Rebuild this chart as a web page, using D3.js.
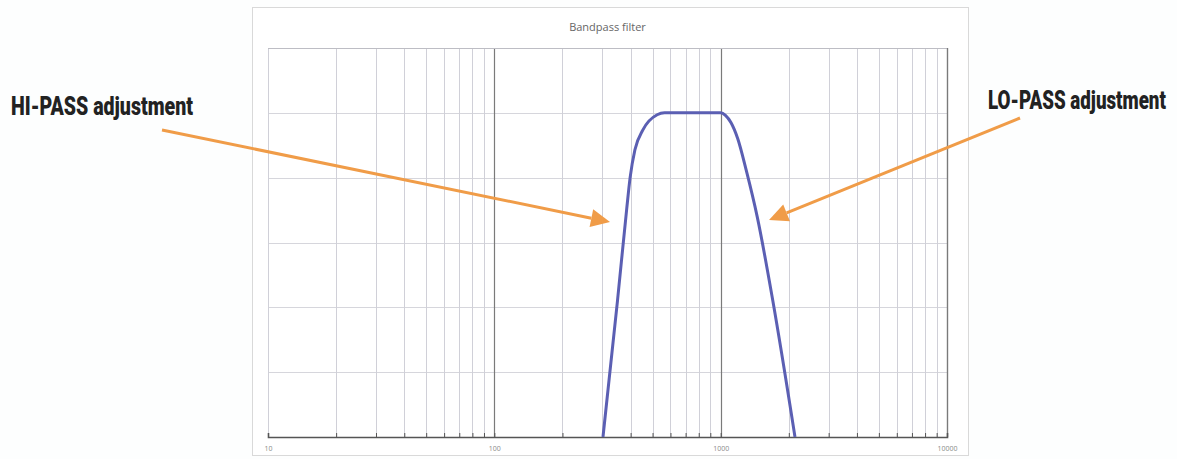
<!DOCTYPE html>
<html lang="en">
<head>
  <meta charset="UTF-8" />
  <title>Bandpass filter</title>
  <script src="https://d3js.org/d3.v7.min.js"></script>
  <style>
    body {
      margin: 0;
      background: #fdfefe;
      font-family: 'Open Sans', 'Liberation Sans', sans-serif;
    }
    svg { display: block; }
  </style>
</head>
<body>
  <svg id="chart" width="1177" height="459"></svg>

  <script>
    // values (frequency in Hz, response in arbitrary grid units)
    const freqs = [302, 350, 384, 398, 418, 454, 524, 565, 1000, 1050, 1110, 1190, 1300, 1450, 1700, 2130];
    const gains = [0, 21, 35, 40, 44.3, 47.4, 49.7, 50, 50, 49.6, 48.5, 46, 41, 34, 21, 0];
    const xLabels = [10, 100, 1000, 10000];
    const yGrid = [0, 10, 20, 30, 40, 50, 60];

    const notes = [
      { text: "HI-PASS adjustment", x: 11, y: 115, w: 182, from: [162, 130], to: [610, 222] },
      { text: "LO-PASS adjustment", x: 988, y: 109, w: 178, from: [1020, 118], to: [769, 220] }
    ];

    const svg = d3.select("#chart");
    const pLeft = 268, pRight = 947, pTop = 48, pBottom = 437;

    const x = d3.scaleLog().domain([10, 10000]).range([pLeft, pRight]);
    const y = d3.scaleLinear().domain([0, 60]).range([pBottom, pTop]);

    // outer chart frame
    svg.append("rect")
      .attr("x", 252.5).attr("y", 7.5)
      .attr("width", 716).attr("height", 448)
      .attr("fill", "#ffffff")
      .attr("stroke", "#d9d9d9");

    svg.append("text")
      .attr("x", (pLeft + pRight) / 2).attr("y", 31)
      .attr("text-anchor", "middle")
      .attr("font-size", 11)
      .attr("fill", "#666")
      .text("Bandpass filter");

    // horizontal grid
    svg.append("g").selectAll("line")
      .data(yGrid.slice(1)).enter().append("line")
      .attr("x1", pLeft).attr("x2", pRight)
      .attr("y1", d => Math.round(y(d)) + 0.5)
      .attr("y2", d => Math.round(y(d)) + 0.5)
      .attr("stroke", "#d6d6dc");

    // vertical grid, decades darker
    const vt = x.ticks();
    const isDecade = d => Math.abs(Math.log10(d) - Math.round(Math.log10(d))) < 1e-9;
    svg.append("g").selectAll("line")
      .data(vt).enter().append("line")
      .attr("x1", d => Math.round(x(d)) + 0.5)
      .attr("x2", d => Math.round(x(d)) + 0.5)
      .attr("y1", pTop).attr("y2", pBottom)
      .attr("stroke", d => isDecade(d) && d !== 10 ? "#7a7a7a" : "#d0d0d8")
      .attr("stroke-width", d => isDecade(d) && d !== 10 ? 1.2 : 1);

    // frame of the plot area
    svg.append("line")
      .attr("x1", pLeft).attr("x2", pRight)
      .attr("y1", pTop + 0.5).attr("y2", pTop + 0.5)
      .attr("stroke", "#bdbdc4");
    svg.append("line")
      .attr("x1", pRight + 0.5).attr("x2", pRight + 0.5)
      .attr("y1", pTop).attr("y2", pBottom)
      .attr("stroke", "#7a7a7a").attr("stroke-width", 1.2);

    // x axis
    const axis = d3.axisBottom(x)
      .tickValues(vt)
      .tickSize(-4)
      .tickFormat(d => xLabels.includes(d) ? d3.format("d")(d) : "");
    const gx = svg.append("g")
      .attr("transform", `translate(0,${pBottom})`)
      .call(axis);
    gx.select(".domain").attr("stroke", "#555").attr("stroke-width", 1.6);
    gx.selectAll(".tick line").attr("stroke", "#555");
    gx.selectAll(".tick text")
      .attr("y", 9)
      .attr("font-size", 7)
      .attr("font-family", "'Open Sans', sans-serif")
      .attr("fill", "#8a8a8a");

    // response curve
    const line = d3.line()
      .x((d, i) => x(freqs[i]))
      .y(d => y(d))
      .curve(d3.curveMonotoneX);
    svg.append("path")
      .datum(gains)
      .attr("d", line)
      .attr("fill", "none")
      .attr("stroke", "#5b5fb3")
      .attr("stroke-width", 3)
      .attr("stroke-linejoin", "round");

    // annotations with orange arrows
    const orange = "#f09c48";
    notes.forEach(n => {
      const [x1, y1] = n.from, [x2, y2] = n.to;
      const ang = Math.atan2(y2 - y1, x2 - x1);
      const len = 19, half = 9;
      const bx = x2 - len * Math.cos(ang), by = y2 - len * Math.sin(ang);
      svg.append("line")
        .attr("x1", x1).attr("y1", y1)
        .attr("x2", bx).attr("y2", by)
        .attr("stroke", orange)
        .attr("stroke-width", 3);
      const pts = [
        [x2, y2],
        [bx + half * Math.sin(ang), by - half * Math.cos(ang)],
        [bx - half * Math.sin(ang), by + half * Math.cos(ang)]
      ];
      svg.append("path")
        .attr("d", "M" + pts.join("L") + "Z")
        .attr("fill", orange);

      // squeeze the bold text horizontally so it looks condensed
      const t = svg.append("text")
        .attr("x", 0).attr("y", 0)
        .attr("font-family", "Roboto, sans-serif")
        .attr("font-weight", 900)
        .attr("font-size", 25)
        .attr("fill", "#222")
        .text(n.text);
      const sx = n.w / t.node().getComputedTextLength();
      t.attr("transform", `translate(${n.x},${n.y}) scale(${sx},1)`);
    });
  </script>
</body>
</html>
